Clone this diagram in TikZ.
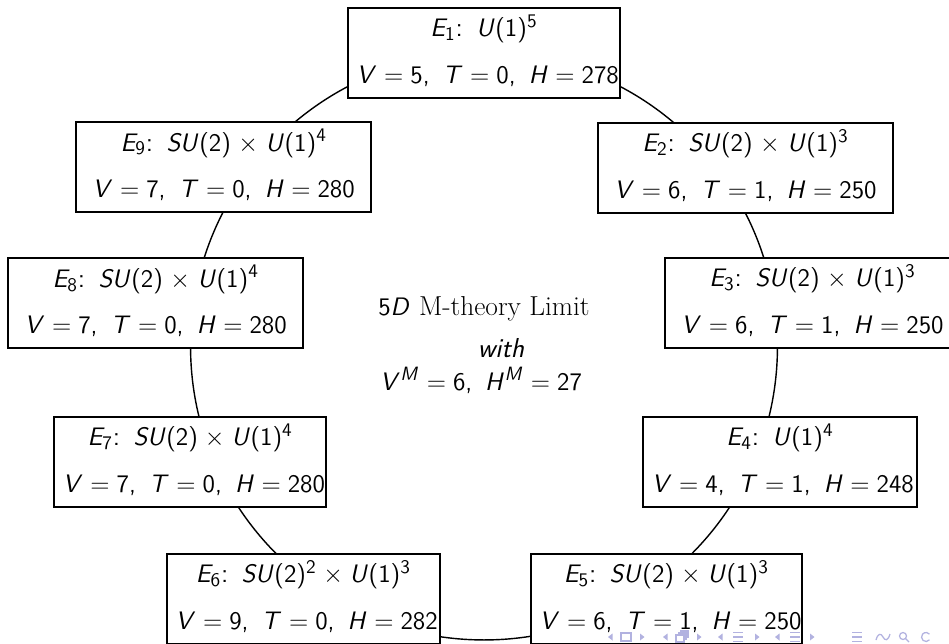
\documentclass[tikz,border=0pt]{standalone}
\DeclareMathVersion{sans}
\SetSymbolFont{operators}{sans}{OT1}{cmss}{m}{n}
\SetSymbolFont{letters}{sans}{OT1}{cmss}{m}{sl}
\DeclareMathSymbol{,}{\mathpunct}{operators}{"2C}
\AtBeginDocument{\mathversion{sans}}
\definecolor{navc}{rgb}{0.70,0.70,0.88}
\tikzset{
  ebox/.style={draw, fill=white, line width=1.1pt, align=center,
    inner xsep=5pt, inner ysep=0pt, text width=#1,
    font=\fontsize{15.2pt}{26.5pt}\selectfont\sffamily},
  ctext/.style={anchor=base, inner sep=0pt, font=\fontsize{15.6pt}{18pt}\selectfont\sffamily},
  ring/.style={line width=0.8pt},
}
\newcommand{\Lone}{\rule{0pt}{16.5pt}}
\newcommand{\Ltwo}[1]{\mbox{#1\rule[-8.4pt]{0pt}{0pt}}}
\begin{document}
\begin{tikzpicture}[x=0.02cm,y=-0.02cm]
\useasboundingbox (0,0) rectangle (949,643);
\fill[white] (0,0) rectangle (949,643);
\clip (0,0) rectangle (949,643);
\coordinate (C) at (484,346.5);
\draw[ring] (C) circle [radius=5.87cm];
\node[ebox=144.9pt] (E1) at (484,53) {\Lone$E_1$: $U(1)^5$\\ \Ltwo{$V=5,\ T=0,\ H=278$}};
\node[ebox=158pt] (E2) at (745.5,168) {\Lone$E_2$: $SU(2)\times U(1)^3$\\ \Ltwo{$V=6,\ T=1,\ H=250$}};
\node[ebox=158pt] (E3) at (812.5,303) {\Lone$E_3$: $SU(2)\times U(1)^3$\\ \Ltwo{$V=6,\ T=1,\ H=250$}};
\node[ebox=146pt] (E4) at (780,461.7) {\Lone$E_4$: $U(1)^4$\\ \Ltwo{$V=4,\ T=1,\ H=248$}};
\node[ebox=144.3pt] (E5) at (666.3,599) {\Lone$E_5$: $SU(2)\times U(1)^3$\\ \Ltwo{$V=6,\ T=1,\ H=250$}};
\node[ebox=145.4pt] (E6) at (303.3,599) {\Lone$E_6$: $SU(2)^2\times U(1)^3$\\ \Ltwo{$V=9,\ T=0,\ H=282$}};
\node[ebox=144.9pt] (E7) at (190.2,462) {\Lone$E_7$: $SU(2)\times U(1)^4$\\ \Ltwo{$V=7,\ T=0,\ H=280$}};
\node[ebox=158pt] (E8) at (155.7,303.3) {\Lone$E_8$: $SU(2)\times U(1)^4$\\ \Ltwo{$V=7,\ T=0,\ H=280$}};
\node[ebox=158pt] (E9) at (223.7,167.2) {\Lone$E_9$: $SU(2)\times U(1)^4$\\ \Ltwo{$V=7,\ T=0,\ H=280$}};
\node[ctext] (t1) at (484,315) {$5D$ \textrm{M-theory Limit}};
\node[ctext] (t2) at (501,357) {\textit{with}};
\node[ctext] (t3) at (481,390) {$V^M=6,\ H^M=27$};
% navigation symbols
\begin{scope}[navc]
\foreach \x in {608,663,718,775} {\fill (\x,637) -- (\x+4.5,633.5) -- (\x+4.5,640.5) -- cycle;}
\foreach \x in {640,697,755,810} {\fill (\x+4.5,637) -- (\x,633.5) -- (\x,640.5) -- cycle;}
\draw[line width=0.6pt] (621,633) rectangle (631,641);
\draw[line width=0.6pt] (676,635) rectangle (684,642);
\draw[line width=0.6pt] (678,633) -- (686,633) -- (686,640);
\draw[line width=0.6pt] (680,631) -- (688,631) -- (688,638);
\foreach \x in {733,790,852} {\draw[line width=0.7pt] (\x,632.5) -- (\x+10,632.5) (\x,637) -- (\x+10,637) (\x,641.5) -- (\x+10,641.5);}
\draw[line width=0.7pt] (876,640) .. controls (878,633) and (881,633) .. (883,637) .. controls (885,641) and (888,641) .. (890,634);
\draw[line width=0.7pt] (903,636) circle [radius=3.5];
\draw[line width=0.7pt] (905.5,638.5) -- (909,642);
\draw[line width=0.7pt] (926,637) ++(40:4.5) arc [start angle=40, end angle=320, radius=4.5];
\end{scope}
\end{tikzpicture}
\end{document}
